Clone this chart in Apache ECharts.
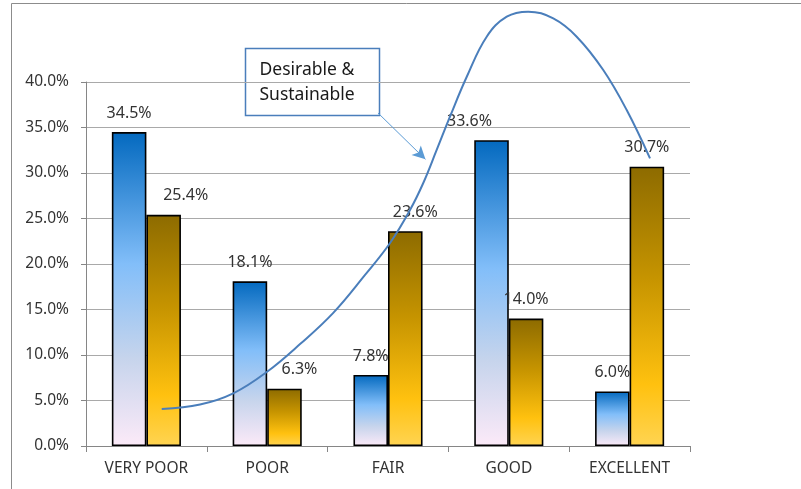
<!DOCTYPE html>
<html>
<head>
<meta charset="utf-8">
<script src="https://cdn.jsdelivr.net/npm/echarts@6/dist/echarts.min.js"></script>
<style>
  html, body { margin: 0; padding: 0; background: #fff; }
  #chart { width: 801px; height: 489px; }
</style>
</head>
<body>
<div id="chart"></div>
<script>
// Ratings and the share of responses in each, for the two series
const categories = ['VERY POOR', 'POOR', 'FAIR', 'GOOD', 'EXCELLENT'];
const seriesA = [34.5, 18.1, 7.8, 33.6, 6.0];
const seriesB = [25.4, 6.3, 23.6, 14.0, 30.7];
const yTicks = [0, 5, 10, 15, 20, 25, 30, 35, 40];

// Horizontal nudges for the value labels that sit beside their bar
const labelShiftA = [0, 0, 0, -22, 0];
const labelShiftB = [22, 15, 10, 0, 0];

// Hand-drawn trend curve: [category position, percent]
const trendX = [0.127, 0.444, 0.719, 0.996, 1.272, 1.545, 1.81, 2.017, 2.182, 2.292, 2.403, 2.513, 2.652, 2.817, 2.983, 3.161, 3.368, 3.562, 3.782, 3.976, 4.169];
const trendY = [4.07, 4.56, 5.79, 8.13, 11.2, 14.6, 18.8, 22.31, 25.93, 28.9, 32.53, 36.19, 40.58, 44.98, 47.18, 47.73, 46.98, 44.98, 41.32, 36.92, 31.61];

// Callout arrow, from the text box corner toward the curve
const arrowFrom = [1.917, 36.6];
const arrowTo = [2.31, 31.5];

const FONT = '"Noto Sans", "Open Sans", sans-serif';
const TEXT = '#333333';
const AXIS = '#868686';

const blueFill = new echarts.graphic.LinearGradient(0, 0, 0, 1, [
  { offset: 0, color: '#0369bf' },
  { offset: 0.42, color: '#82bef9' },
  { offset: 0.72, color: '#c6d4ec' },
  { offset: 1, color: '#fceaf8' }
]);
const goldFill = new echarts.graphic.LinearGradient(0, 0, 0, 1, [
  { offset: 0, color: '#8d6b00' },
  { offset: 0.4, color: '#c69400' },
  { offset: 0.78, color: '#ffc10f' },
  { offset: 1, color: '#ffd452' }
]);

function pct(v) { return v.toFixed(1) + '%'; }

function barData(values, shifts) {
  return values.map((v, i) => ({
    value: v,
    label: { offset: [shifts[i], 0] }
  }));
}

const barLabel = {
  show: true,
  position: 'top',
  distance: 11,
  fontFamily: FONT,
  fontSize: 16,
  color: TEXT,
  formatter: p => pct(p.value)
};

const chart = echarts.init(document.getElementById('chart'), null, { renderer: 'canvas' });

chart.setOption({
  animation: false,
  backgroundColor: '#ffffff',
  grid: { left: 86, right: 111, top: 82, bottom: 43 },
  xAxis: [
    {
      type: 'category',
      data: categories,
      boundaryGap: true,
      axisLine: { lineStyle: { color: AXIS, width: 1 } },
      axisTick: { show: true, length: 6, lineStyle: { color: AXIS } },
      axisLabel: { fontFamily: FONT, fontSize: 15.5, color: TEXT, margin: 15 }
    },
    {
      type: 'value',
      min: -0.5,
      max: 4.5,
      show: false
    }
  ],
  yAxis: {
    type: 'value',
    min: yTicks[0],
    max: yTicks[yTicks.length - 1],
    interval: yTicks[1] - yTicks[0],
    axisLine: { show: true, onZero: false, lineStyle: { color: AXIS, width: 1 } },
    axisTick: { show: true, length: 5, lineStyle: { color: AXIS } },
    splitLine: { lineStyle: { color: '#a9a9a9', width: 1 } },
    axisLabel: { fontFamily: FONT, fontSize: 15.5, color: TEXT, margin: 17, formatter: v => pct(v) }
  },
  series: [
    {
      type: 'bar',
      data: barData(seriesA, labelShiftA),
      barWidth: '28.6%',
      barGap: '0%',
      itemStyle: { color: blueFill, borderColor: '#000', borderWidth: 1.6 },
      label: barLabel,
      z: 2
    },
    {
      type: 'bar',
      data: barData(seriesB, labelShiftB),
      barWidth: '28.6%',
      barGap: '0%',
      itemStyle: { color: goldFill, borderColor: '#000', borderWidth: 1.6 },
      label: barLabel,
      z: 2
    },
    {
      type: 'line',
      xAxisIndex: 1,
      data: trendX.map((x, i) => [x, trendY[i]]),
      smooth: 0.4,
      showSymbol: false,
      symbol: 'none',
      clip: false,
      lineStyle: { color: '#4a7ebb', width: 2 },
      z: 5,
      markLine: {
        silent: true,
        symbol: ['none', 'arrow'],
        symbolSize: [10, 13],
        label: { show: false },
        lineStyle: { color: '#5b9bd5', width: 1, type: 'solid' },
        data: [[{ coord: arrowFrom }, { coord: arrowTo }]]
      }
    }
  ],
  graphic: [
    {
      type: 'rect',
      silent: true,
      shape: { x: 11.5, y: 3.5, width: 900, height: 600 },
      style: { fill: 'none', stroke: '#8c8c8c', lineWidth: 1 }
    },
    {
      type: 'group',
      left: 243,
      top: 46,
      children: [
        {
          type: 'rect',
          shape: { x: 0, y: 0, width: 134, height: 67 },
          style: { fill: 'none', stroke: '#4a7ebb', lineWidth: 1.5 }
        },
        {
          type: 'text',
          x: 14,
          y: 9,
          style: {
            text: 'Desirable &\nSustainable',
            font: '17.5px ' + FONT,
            lineHeight: 25,
            fill: '#1a1a1a'
          }
        }
      ]
    }
  ]
});
</script>
</body>
</html>
